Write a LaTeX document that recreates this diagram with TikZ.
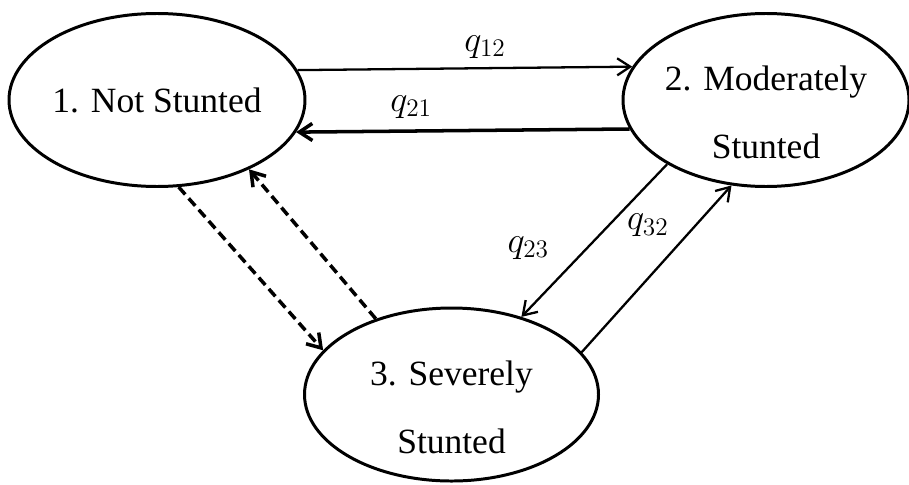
\documentclass[tikz,border=0pt]{standalone}
\usepackage{fontspec}
\setmainfont{Liberation Serif}
\usetikzlibrary{shapes.geometric,arrows.meta}
\newcommand{\twolines}[2]{\raisebox{0.19cm}[0pt][0pt]{\begin{tabular}[t]{@{}c@{}}#1\\#2\end{tabular}}}

\begin{document}
\begin{tikzpicture}[
 state/.style={ellipse,draw,line width=1.7pt,inner sep=0pt,minimum height=3.46cm,font=\fontsize{20.2}{38.7}\selectfont},
 flow/.style={line width=1.3pt,-{Straight Barb[length=0.26cm,width=0.34cm]}},
 maybe/.style={flow,line width=2pt,dash pattern=on 5.6pt off 3pt},
 rate/.style={font=\fontsize{22}{26}\selectfont}]
 \useasboundingbox (-3.14,2.0) rectangle (15.04,-7.70);
 \node[state,minimum width=5.92cm] (n1) {1. Not Stunted};
 \node[state,minimum width=5.72cm,node distance=12.18cm] (n2) [right of=n1] {\twolines{2. Moderately}{Stunted}};
 \node[state,minimum width=5.88cm,node distance=8.33cm] (n3) [below right of=n1] {\twolines{3. Severely}{Stunted}};

 \draw[flow] (n1.12.6) -- (n2.166.9) node[rate,above=0.06cm,pos=0.56] (q12) {$q_{12}$};
 \draw[flow,line width=2pt] (n2.192.6) -- (n1.347.8) node[rate,above=0.1cm,pos=0.655] (q21) {$q_{21}$};
 \draw[flow] (n2.213.3) -- (n3.48.9) node[rate,left=0.62cm,pos=0.55] (q23) {$q_{23}$};
 \draw[flow] (n3.18.7) -- (n2.248) node[rate,left=0.4cm,pos=0.76] (q32) {$q_{32}$};
 \draw[maybe] (n1.284.6) -- (n3.161.4);
 \draw[maybe] (n3.135.7) -- (n1.323.5);
\end{tikzpicture}
\end{document}
